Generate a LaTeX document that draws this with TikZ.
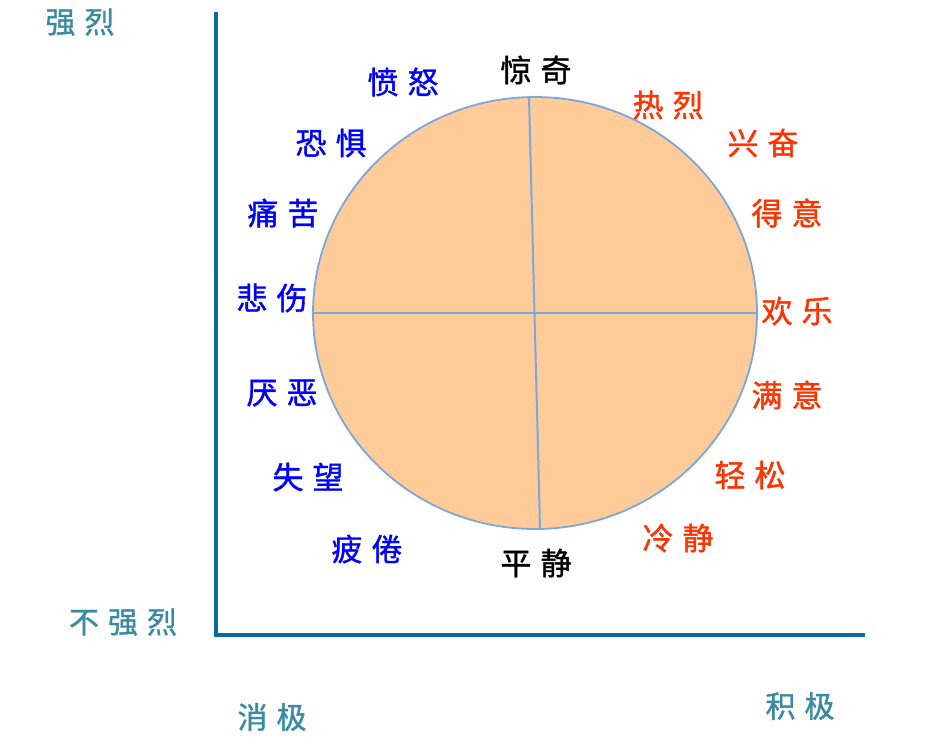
\documentclass[tikz,border=0pt]{standalone}
\usepackage{fontspec}
\usetikzlibrary{shapes.geometric}
\newfontfamily\cjk[FakeBold=1.2]{Noto Sans CJK SC}
\definecolor{axisc}{HTML}{0A6A9A}
\definecolor{axlab}{HTML}{3A8AA2}
\definecolor{negc}{HTML}{0000FF}
\definecolor{posc}{HTML}{FF3300}
\definecolor{peach}{HTML}{FFCC99}
\definecolor{rim}{HTML}{7BA7DC}
\newcommand{\gp}{\hspace{9pt}}
\begin{document}
\begin{tikzpicture}[x=1pt,y=-1pt,
  emolab/.style={font=\cjk\fontsize{31}{34}\selectfont, inner sep=0pt},
  neglab/.style={emolab, text=negc},
  poslab/.style={emolab, text=posc},
  midlab/.style={emolab, text=black},
  axlabel/.style={font=\cjk\fontsize{30}{32}\selectfont, inner sep=0pt, text=axlab},
  axisline/.style={draw=axisc, line width=4pt},
  divider/.style={draw=rim, line width=2pt}]
\useasboundingbox (0,0) rectangle (933,749);
% circle
\node (c) [ellipse, draw=rim, line width=1.8pt, fill=peach, minimum width=444pt, minimum height=432pt, inner sep=0pt] at (535,313) {};
\coordinate (vt) at (529,97);
\coordinate (vb) at (540,529);
\draw[divider] (vt) -- (vb);
\draw[divider] (c.west) -- (c.east);
% axes
\coordinate (ytop) at (216,14);
\coordinate (orig) at (216,635);
\coordinate (xend) at (863,635);
\draw[axisline, line cap=rect] (ytop) -- (orig) -- (xend);
% axis labels
\node[axlabel] (s1) at (80,22) {强\gp 烈};
\node[axlabel] (s2) at (123,622) {不\gp 强\gp 烈};
\node[axlabel] (n1) at (272,717) {消\gp 极};
\node[axlabel] (p1) at (800,706) {积\gp 极};
% emotion labels
\node[midlab] (jq) at (536,70) {惊\gp 奇};
\node[midlab] (pj) at (536,563) {平\gp 静};
\node[neglab] (fn) at (403,82) {愤\gp 怒};
\node[neglab] (kj) at (331,143) {恐\gp 惧};
\node[neglab] (tk) at (283,213) {痛\gp 苦};
\node[neglab] (bs) at (272,298) {悲\gp 伤};
\node[neglab] (yw) at (282,393) {厌\gp 恶};
\node[neglab] (sw) at (308,477) {失\gp 望};
\node[neglab] (pjuan) at (367,549) {疲\gp 倦};
\node[poslab] (rl) at (668,105) {热\gp 烈};
\node[poslab] (xf) at (763,143) {兴\gp 奋};
\node[poslab] (dy) at (787,213) {得\gp 意};
\node[poslab] (hl) at (797,311) {欢\gp 乐};
\node[poslab] (my) at (787,395) {满\gp 意};
\node[poslab] (qs) at (750,475) {轻\gp 松};
\node[poslab] (lj) at (678,538) {冷\gp 静};
\end{tikzpicture}
\end{document}
